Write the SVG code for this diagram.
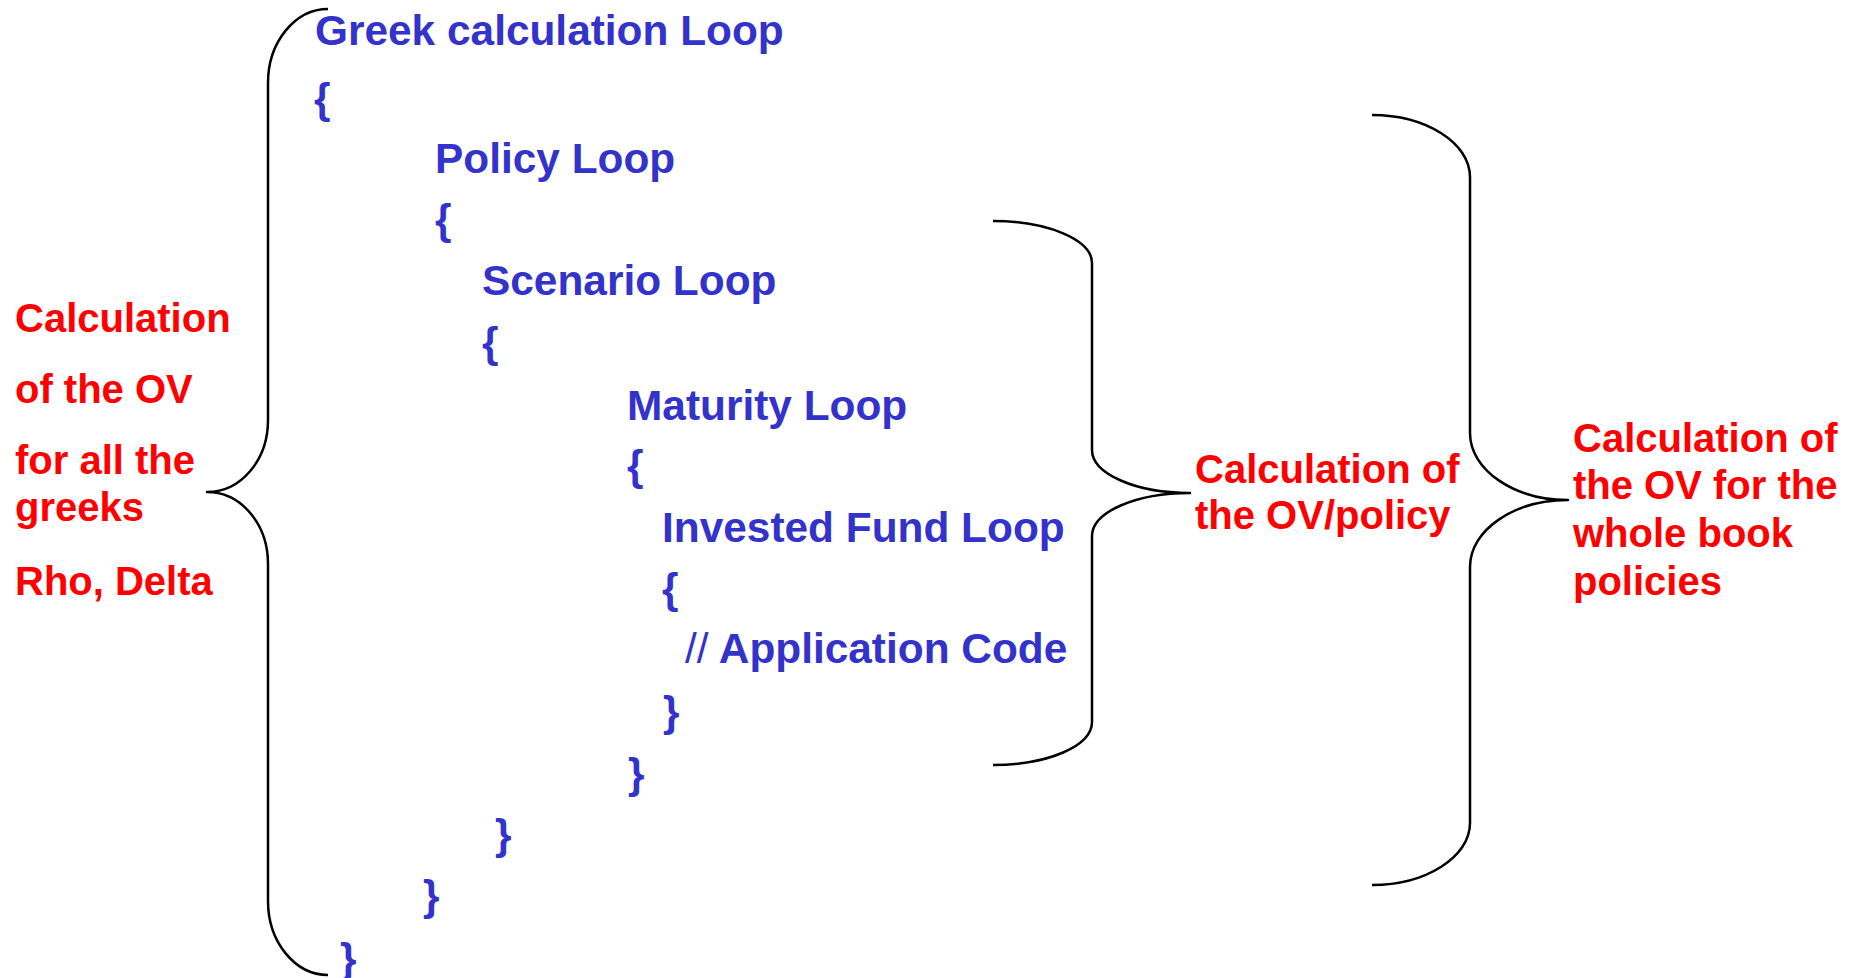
<svg xmlns="http://www.w3.org/2000/svg" width="1856" height="978" viewBox="0 0 1856 978">
  <style>
    .code { font-family: "Liberation Sans", Arial, sans-serif; font-weight: bold; font-size: 42.4px; fill: #3333CC; }
    .thin { font-weight: normal; }
    .note { font-family: "Liberation Sans", Arial, sans-serif; font-weight: bold; font-size: 40px; fill: #FF0000; }
    .brace { fill: none; stroke: #000000; stroke-width: 2.5; stroke-linejoin: round; }
  </style>
  <rect width="1856" height="978" fill="#FFFFFF"/>

  <!-- nested loop pseudo-code -->
  <g id="greek-loop">
    <text class="code" x="315" y="45">Greek calculation Loop</text>
    <text class="code" x="314" y="113">{</text>
    <text class="code" x="340" y="973">}</text>
  </g>
  <g id="policy-loop">
    <text class="code" x="435" y="173">Policy Loop</text>
    <text class="code" x="435" y="234">{</text>
    <text class="code" x="423" y="910">}</text>
  </g>
  <g id="scenario-loop">
    <text class="code" x="482" y="295">Scenario Loop</text>
    <text class="code" x="482" y="357">{</text>
    <text class="code" x="495" y="849">}</text>
  </g>
  <g id="maturity-loop">
    <text class="code" x="627" y="420">Maturity Loop</text>
    <text class="code" x="627" y="480">{</text>
    <text class="code" x="628" y="788">}</text>
  </g>
  <g id="fund-loop">
    <text class="code" x="662" y="542">Invested Fund Loop</text>
    <text class="code" x="662" y="603">{</text>
    <text class="code" x="663" y="726">}</text>
  </g>
  <g id="application-code">
    <text class="code" x="685" y="663"><tspan class="thin">//</tspan> Application Code</text>
  </g>

  <!-- annotations -->
  <g id="note-greeks">
    <text class="note" x="15" y="332">Calculation</text>
    <text class="note" x="15" y="403">of the OV</text>
    <text class="note" x="15" y="474">for all the</text>
    <text class="note" x="15" y="521">greeks</text>
    <text class="note" x="15" y="595">Rho, Delta</text>
  </g>
  <g id="note-policy">
    <text class="note" x="1195" y="483">Calculation of</text>
    <text class="note" x="1195" y="529">the OV/policy</text>
  </g>
  <g id="note-book">
    <text class="note" x="1573" y="452">Calculation of</text>
    <text class="note" x="1573" y="499">the OV for the</text>
    <text class="note" x="1573" y="547">whole book</text>
    <text class="note" x="1573" y="595">policies</text>
  </g>

  <!-- curly braces linking code ranges to annotations -->
  <g id="connectors">
    <path class="brace" d="M328,9 C295,9 268,42 268,83 L268,420 C268,460 241,492 207,492 C241,492 268,524 268,564 L268,901 C268,942 295,975 328,975"/>
    <path class="brace" d="M993,221 C1048,221 1092,240 1092,263 L1092,450 C1092,474 1136,493 1190,493 C1136,493 1092,512 1092,536 L1092,722 C1092,746 1048,765 993,765"/>
    <path class="brace" d="M1372,115 C1426,115 1470,143 1470,177 L1470,433 C1470,470 1514,500 1568,500 C1514,500 1470,530 1470,567 L1470,823 C1470,857 1426,885 1372,885"/>
  </g>
</svg>
